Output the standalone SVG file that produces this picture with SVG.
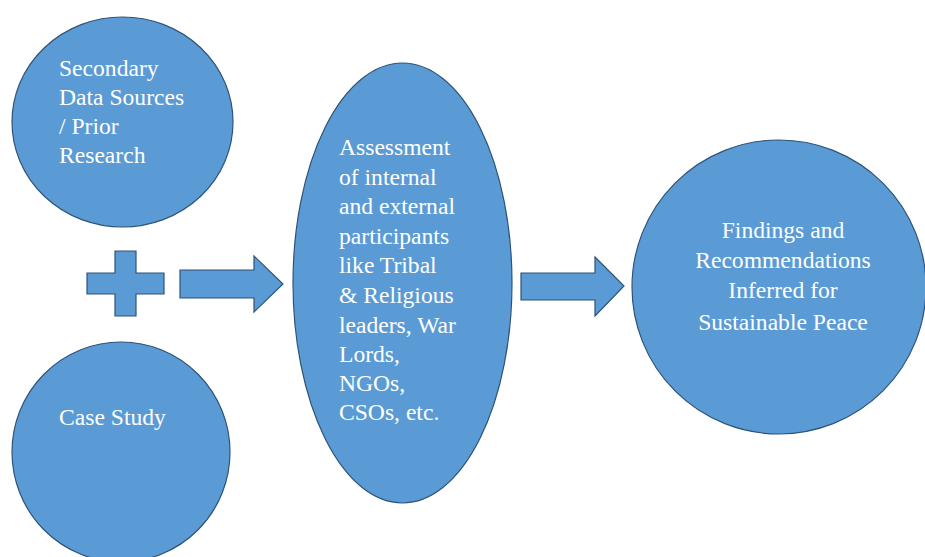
<svg xmlns="http://www.w3.org/2000/svg" width="925" height="557" viewBox="0 0 925 557">
<style>
.shape{fill:#5B9BD5;stroke:#2F5377;stroke-width:1.2}
.t{font-family:'Liberation Serif','DejaVu Serif',serif;font-size:23.6px;fill:#FFFFFF}
.c{text-anchor:middle}
</style>
<rect width="925" height="557" fill="#FFFFFF"/>
<g id="secondary">
<ellipse class="shape" cx="122.5" cy="122" rx="110.5" ry="105"/>
<text class="t" x="59" y="76">Secondary</text>
<text class="t" x="59" y="105">Data Sources</text>
<text class="t" x="59" y="134">/ Prior</text>
<text class="t" x="59" y="163">Research</text>
</g>
<g id="casestudy">
<ellipse class="shape" cx="121" cy="452" rx="109" ry="110"/>
<text class="t" x="59" y="425">Case Study</text>
</g>
<g id="plus">
<path class="shape" d="M115,251 H136 V273 H164 V294 H136 V316 H115 V294 H87 V273 H115 Z"/>
</g>
<g id="assessment">
<ellipse class="shape" cx="402.5" cy="283" rx="109.5" ry="220"/>
<text class="t" x="339" y="155">Assessment</text>
<text class="t" x="339" y="185">of internal</text>
<text class="t" x="339" y="214">and external</text>
<text class="t" x="339" y="244">participants</text>
<text class="t" x="339" y="273">like Tribal</text>
<text class="t" x="339" y="303">&amp; Religious</text>
<text class="t" x="339" y="333">leaders, War</text>
<text class="t" x="339" y="362">Lords,</text>
<text class="t" x="339" y="391">NGOs,</text>
<text class="t" x="339" y="420">CSOs, etc.</text>
</g>
<g id="findings">
<ellipse class="shape" cx="779" cy="287" rx="147" ry="147"/>
<text class="t c" x="783" y="238">Findings and</text>
<text class="t c" x="783" y="268">Recommendations</text>
<text class="t c" x="783" y="298">Inferred for</text>
<text class="t c" x="783" y="330">Sustainable Peace</text>
</g>
<g id="connectors">
<path class="shape" d="M180,270 H254 V256 L283,284 L254,312 V298 H180 Z"/>
<path class="shape" d="M521,273 H595 V257 L624,286 L595,316 V300 H521 Z"/>
</g>
</svg>
